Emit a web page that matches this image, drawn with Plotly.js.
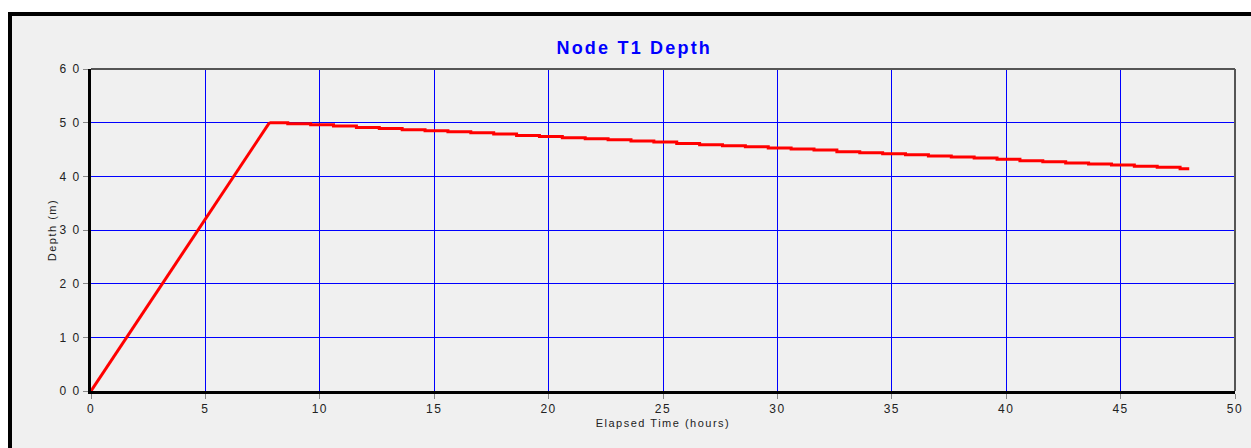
<!DOCTYPE html>
<html>
<head>
<meta charset="utf-8">
<script src="https://cdn.plot.ly/plotly-3.0.1.min.js"></script>
<style>
  html, body { margin: 0; padding: 0; background: #ffffff; width: 1251px; height: 448px; overflow: hidden; }
  #frame { position: absolute; left: 8px; top: 12px; width: 1251px; height: 440px;
           border-top: 4px solid #000; border-left: 4px solid #000; background: #f0f0f0; }
  #chart { position: absolute; left: 0; top: 0; width: 1251px; height: 448px; }
  #chart .main-svg text { letter-spacing: 1.5px; }
  #chart .gtitle { letter-spacing: 2.2px !important; }
</style>
</head>
<body>
<div id="frame"></div>
<div id="chart"></div>
<script>
// Rising (filling) phase: elapsed hours and depth
const riseTime  = [0, 7.8];
const riseDepth = [0.0, 5.0];

// Draining phase (stepwise, hourly reporting)
const fallTime  = [7.8, 8.6, 9.6, 10.6, 11.6, 12.6, 13.6, 14.6, 15.6, 16.6, 17.6, 18.6, 19.6,
                   20.6, 21.6, 22.6, 23.6, 24.6, 25.6, 26.6, 27.6, 28.6, 29.6, 30.6, 31.6, 32.6,
                   33.6, 34.6, 35.6, 36.6, 37.6, 38.6, 39.6, 40.6, 41.6, 42.6, 43.6, 44.6, 45.6,
                   46.6, 47.6, 48.0];
const fallDepth = [5.00, 4.98, 4.96, 4.94, 4.91, 4.89, 4.87, 4.85, 4.83, 4.81, 4.79, 4.76, 4.74,
                   4.72, 4.70, 4.68, 4.66, 4.64, 4.61, 4.59, 4.57, 4.55, 4.53, 4.51, 4.49, 4.46,
                   4.44, 4.42, 4.40, 4.38, 4.36, 4.34, 4.32, 4.29, 4.27, 4.25, 4.23, 4.21, 4.19,
                   4.17, 4.14, 4.14];

const yTickVals = [0, 1, 2, 3, 4, 5, 6];
const yTickText = ["0 0", "1 0", "2 0", "3 0", "4 0", "5 0", "6 0"];
const xTickVals = [0, 5, 10, 15, 20, 25, 30, 35, 40, 45, 50];

const chartTitle = "Node T1 Depth";
const xTitle = "Elapsed Time (hours)";
const yTitle = "Depth (m)";

const lineStyle = { color: "#ff0000", width: 3 };

const traces = [
  { x: riseTime, y: riseDepth, mode: "lines", line: Object.assign({ shape: "linear" }, lineStyle), hoverinfo: "none" },
  { x: fallTime, y: fallDepth, mode: "lines", line: Object.assign({ shape: "hv" }, lineStyle), hoverinfo: "none" }
];

const font = "Liberation Sans, Arial, sans-serif";

const layout = {
  width: 1251, height: 448,
  margin: { l: 91, r: 16, t: 69, b: 57 },
  paper_bgcolor: "rgba(0,0,0,0)",
  plot_bgcolor: "rgba(0,0,0,0)",
  showlegend: false,
  font: { family: font, color: "#222" },
  title: {
    text: chartTitle,
    font: { family: font, size: 18, color: "#0000ff", weight: "bold" },
    xref: "container", x: 0.507, xanchor: "center",
    yref: "container", y: 1 - 48 / 448, yanchor: "middle"
  },
  xaxis: {
    range: [0, 50], tickvals: xTickVals, ticktext: xTickVals.map(String),
    showgrid: true, gridcolor: "#0000ff", gridwidth: 1, zeroline: false,
    showline: true, linecolor: "#000", linewidth: 3,
    ticks: "outside", ticklen: 5, tickcolor: "#888", tickwidth: 1,
    tickfont: { family: font, size: 12, color: "#222" },
    title: { text: xTitle, font: { family: font, size: 11, color: "#222" }, standoff: 4 }
  },
  yaxis: {
    range: [0, 6], tickvals: yTickVals, ticktext: yTickText,
    showgrid: true, gridcolor: "#0000ff", gridwidth: 1, zeroline: false,
    showline: true, linecolor: "#000", linewidth: 3,
    ticks: "outside", ticklen: 5, tickcolor: "#888", tickwidth: 1,
    tickfont: { family: font, size: 12, color: "#222" },
    title: { text: yTitle, font: { family: font, size: 11, color: "#222" }, standoff: 6 }
  },
  shapes: [
    { type: "line", xref: "paper", yref: "paper", x0: 0, x1: 1, y0: 1, y1: 1, line: { color: "#555", width: 2 } },
    { type: "line", xref: "paper", yref: "paper", x0: 1, x1: 1, y0: 0, y1: 1, line: { color: "#555", width: 2 } }
  ]
};

Plotly.newPlot("chart", traces, layout, { displayModeBar: false, staticPlot: true });
</script>
</body>
</html>
